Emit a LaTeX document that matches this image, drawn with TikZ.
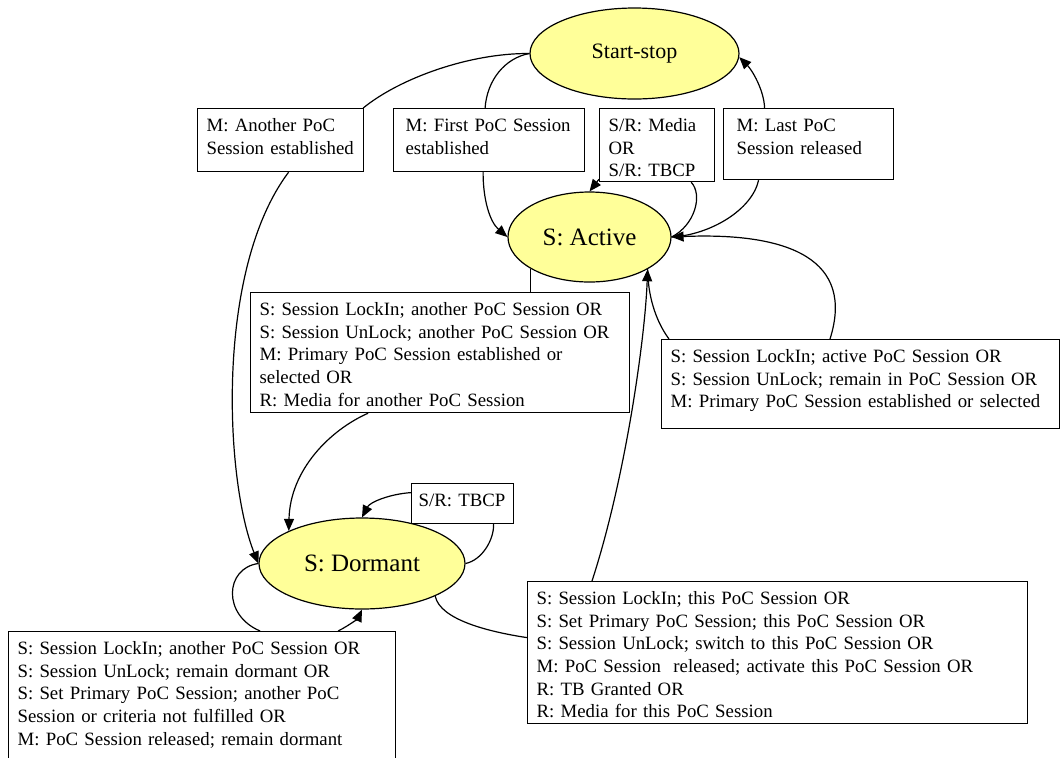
\documentclass[tikz,border=0pt]{standalone}
\usepackage{fontspec}
\setmainfont{Liberation Serif}
\usetikzlibrary{shapes.geometric,arrows.meta}
\definecolor{stateyellow}{RGB}{255,255,153}

\begin{document}
\begin{tikzpicture}[x=0.5pt,y=-0.5pt,
  statenode/.style={ellipse,draw,fill=stateyellow,line width=0.6pt,inner sep=0pt},
  condbox/.style={draw,rectangle,anchor=north west,align=left,line width=0.6pt,
    inner xsep=4.5pt,inner ysep=2.5pt,text height=9pt,font=\fontsize{9.4}{11.3}\selectfont},
  ln/.style={line width=0.6pt},
  arr/.style={line width=0.6pt,-{Triangle[length=6pt,width=5pt]}}]

\useasboundingbox (0,0) rectangle (1062,757);
\clip (0,0) rectangle (1062,757);

%tilat
\node[statenode,minimum width=104.5pt,minimum height=45.5pt,font=\fontsize{11}{13}\selectfont] (ss) at (634.5,53.5) {Start-stop};
\node[statenode,minimum width=81.5pt,minimum height=45pt,font=\fontsize{12.5}{15}\selectfont] (ac) at (589.5,237) {S: Active};
\node[statenode,minimum width=103pt,minimum height=45.5pt,font=\fontsize{12.5}{15}\selectfont] (dm) at (362,563.5) {S: Dormant};

%ehdot
\node[condbox,text width=74pt,text depth=17.5pt] (another) at (197,108) {M: Another PoC\\Session established};
\node[condbox,inner xsep=6pt,text width=83.5pt,text depth=17.5pt] (first) at (393,108) {M: First PoC Session\\established};
\node[condbox,text width=48.5pt,text depth=22.5pt] (media) at (599,108) {S/R: Media\\OR\\S/R: TBCP};
\node[condbox,inner xsep=6.5pt,text width=72pt,text depth=21.5pt] (last) at (723,108) {M: Last PoC\\Session released};
\node[condbox,text width=180.5pt,text depth=46pt] (lockother) at (250,292) {S: Session LockIn; another PoC Session OR\\S: Session UnLock; another PoC Session OR\\M: Primary PoC Session established or\\selected OR\\R: Media for another PoC Session};
\node[condbox,text width=190pt,text depth=30.5pt] (lockactive) at (661,339) {S: Session LockIn; active PoC Session OR\\S: Session UnLock; remain in PoC Session OR\\M: Primary PoC Session established or selected};
\node[condbox,inner xsep=3.5pt,text width=44pt,text depth=6pt] (tbcp) at (411,483) {S/R: TBCP};
\node[condbox,text width=184.5pt,text depth=61pt] (dormloop) at (8,631) {S: Session LockIn; another PoC Session OR\\S: Session UnLock; remain dormant OR\\S: Set Primary PoC Session; another PoC\\Session or criteria not fulfilled OR\\M: PoC Session released; remain dormant};
\node[condbox,text width=241pt,text depth=57pt] (lockthis) at (527,581) {S: Session LockIn; this PoC Session OR\\S: Set Primary PoC Session; this PoC Session OR\\S: Session UnLock; switch to this PoC Session OR\\M: PoC Session\ \ released; activate this PoC Session OR\\R: TB Granted OR\\R: Media for this PoC Session};

%start-stop -> dormant
\draw[ln] (ss.west) .. controls (470,53) and (400,78) .. ([xshift=-0.5pt]another.north east);
\draw[arr] ([xshift=4pt]another.south) .. controls (215,270) and (225,480) .. (dm.west);

%start-stop -> active
\draw[ln] (ss.west) .. controls (505,58) and (487,80) .. ([xshift=-2pt]first.north);
\draw[arr] ([xshift=-3pt]first.south) .. controls (483,200) and (490,222) .. (ac.west);

%active -> active
\draw[ln] (ac.east) .. controls (695,225) and (703,195) .. ([xshift=-12pt]media.south east);
\draw[arr] ([yshift=1.5pt]media.south west) -- (ac.north);
\draw[ln] (ac.331) .. controls (648,295) and (655,320) .. ([xshift=4pt]lockactive.north west);
\draw[arr] ([xshift=84.5pt]lockactive.north west) .. controls (855,260) and (790,232) .. (ac.east);

%active -> start-stop
\draw[ln] (ac.east) .. controls (710,235) and (752,210) .. ([xshift=-25pt]last.south);
\draw[arr] ([xshift=-22pt]last.north) .. controls (764,90) and (752,70) .. (ss.-2);

%active -> dormant
\draw[ln] (ac.208) -- (ac.208 |- lockother.north);
\draw[arr] ([xshift=-36pt]lockother.south) .. controls (330,430) and (290,470) .. (dm.156);

%dormant -> dormant
\draw[ln] (dm.east) .. controls (482,560) and (494,540) .. ([xshift=15.5pt]tbcp.south);
\draw[arr] ([yshift=5.5pt]tbcp.west) .. controls (390,494) and (370,502) .. (dm.north);
\draw[ln] (dm.west) .. controls (225,568) and (222,615) .. ([xshift=29pt]dormloop.north);
\draw[arr] ([xshift=68pt]dormloop.north) .. controls (350,625) and (358,618) .. (dm.south);

%dormant -> active
\draw[ln] (dm.-24) .. controls (440,620) and (490,632) .. ([yshift=7.5pt]lockthis.west);
\draw[arr] ([xshift=32.5pt]lockthis.north west) .. controls (625,480) and (645,340) .. (ac.331);

\end{tikzpicture}
\end{document}
